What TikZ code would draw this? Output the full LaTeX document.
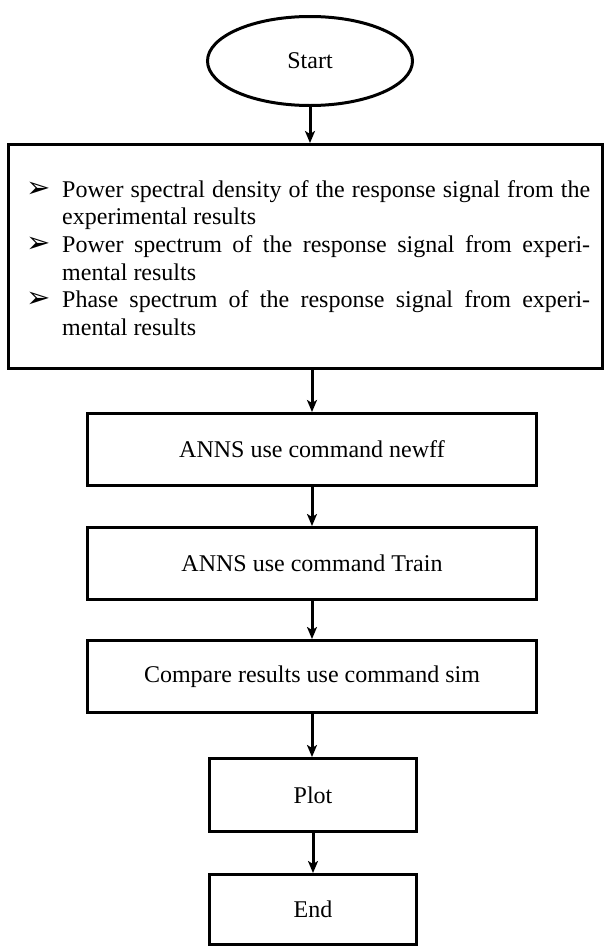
\documentclass[tikz,border=0pt]{standalone}
\usepackage{fontspec}
\setmainfont{Liberation Serif}
\newfontfamily\symfont{DejaVu Sans}
\usetikzlibrary{shapes.geometric,arrows.meta}
\newcommand{\bulmark}{\makebox[37pt][l]{\hspace{1pt}\raisebox{0pt}{\symfont\fontsize{29}{29}\selectfont ➢}}}
\begin{document}
\begin{tikzpicture}[x=1pt,y=-1pt,
  box/.style={draw, line width=3pt, rectangle, minimum height=72pt, inner sep=0pt,
    font=\fontsize{24}{28}\selectfont},
  flow/.style={line width=3pt, -{Stealth[length=12pt,width=10pt,inset=3pt]}}]
\useasboundingbox (0,0) rectangle (606,948);
\node[draw, ellipse, line width=3pt, minimum width=205pt, minimum height=89pt, inner sep=0pt,
  font=\fontsize{24}{28}\selectfont] (start) at (310,61) {Start};
\node[box, minimum width=594pt, minimum height=224pt] (params) at (305.5,256.5) {};
\node[anchor=west, inner sep=0pt] (paramtext) at (25,258) {\parbox{565pt}{\fontsize{24}{27.6}\selectfont
\noindent\hangindent=37pt\hangafter=1\bulmark Power spectral density of the response signal from the\linebreak experimental results\par
\noindent\hangindent=37pt\hangafter=1\bulmark Power spectrum of the response signal from experi-\linebreak mental results\par
\noindent\hangindent=37pt\hangafter=1\bulmark Phase spectrum of the response signal from experi-\linebreak mental results\par}};
\node[box, minimum width=449pt] (newff) at (312,449.5) {ANNS use command newff};
\node[box, minimum width=449pt] (train) at (312,563.5) {ANNS use command Train};
\node[box, minimum width=449pt] (compare) at (312,676.5) {Compare results use command sim};
\node[box, minimum width=207pt, minimum height=73pt] (plot) at (313,795) {Plot};
\node[box, minimum width=207pt, minimum height=70pt] (end) at (313,909.5) {End};
\draw[flow] (start.south) -- (start.south |- params.north);
\draw[flow] (params.south -| newff.north) -- (newff.north);
\draw[flow] (newff.south) -- (train.north);
\draw[flow] (train.south) -- (compare.north);
\draw[flow] (compare.south) -- (compare.south |- plot.north);
\draw[flow] (plot.south) -- (end.north);
\end{tikzpicture}
\end{document}
